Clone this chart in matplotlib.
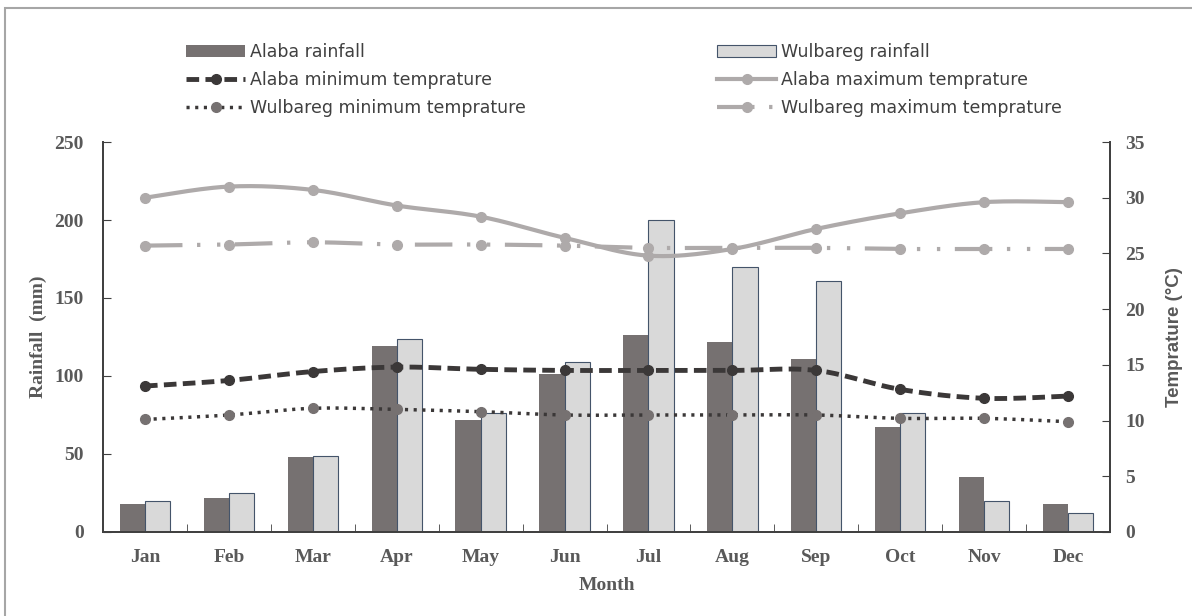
import numpy as np
import matplotlib.pyplot as plt
from matplotlib.patches import Rectangle
from matplotlib.lines import Line2D

# Monthly data
months = ['Jan', 'Feb', 'Mar', 'Apr', 'May', 'Jun', 'Jul', 'Aug', 'Sep', 'Oct', 'Nov', 'Dec']
alaba_rain = [18, 22, 48, 119, 72, 101, 126, 122, 111, 67, 35, 18]
wulbareg_rain = [20, 25, 49, 124, 76, 109, 200, 170, 161, 76, 20, 12]
alaba_min = [13.1, 13.6, 14.4, 14.8, 14.6, 14.5, 14.5, 14.5, 14.5, 12.8, 12.0, 12.2]
wulbareg_min = [10.1, 10.5, 11.1, 11.0, 10.8, 10.5, 10.5, 10.5, 10.5, 10.2, 10.2, 9.9]
alaba_max = [30.0, 31.0, 30.7, 29.3, 28.3, 26.4, 24.8, 25.4, 27.2, 28.6, 29.6, 29.6]
wulbareg_max = [25.7, 25.8, 26.0, 25.8, 25.8, 25.7, 25.5, 25.5, 25.5, 25.4, 25.4, 25.4]

txt = '#595959'
serif = 'Liberation Serif'


def smooth(x, y, n=24):
    # Catmull-Rom curve through the points, like Excel's smoothed line
    x = np.asarray(x, float)
    y = np.asarray(y, float)
    px = np.concatenate([[x[0]], x, [x[-1]]])
    py = np.concatenate([[y[0]], y, [y[-1]]])
    xs, ys = [], []
    t = np.linspace(0, 1, n)
    for i in range(1, len(px) - 2):
        for p, out in ((px, xs), (py, ys)):
            p0, p1, p2, p3 = p[i - 1], p[i], p[i + 1], p[i + 2]
            out.extend(0.5 * ((2 * p1) + (-p0 + p2) * t
                              + (2 * p0 - 5 * p1 + 4 * p2 - p3) * t ** 2
                              + (-p0 + 3 * p1 - 3 * p2 + p3) * t ** 3))
    return xs, ys


fig = plt.figure(figsize=(11.92, 6.16), dpi=100)
ax = fig.add_axes([103 / 1192, 1 - 532 / 616, (1110 - 103) / 1192, (532 - 142) / 616])
ax2 = ax.twinx()

# chart area frame
fig.patches.append(Rectangle((5 / 1192, -0.1), 1.2, 1 - 8 / 616 + 0.1, transform=fig.transFigure,
                             fill=False, edgecolor='#a6a6a6', lw=1.5))

x = np.arange(len(months))
w = 0.3
ax.bar(x - w / 2, alaba_rain, w, color='#767171', edgecolor='none')
ax.bar(x + w / 2, wulbareg_rain, w, color='#d9d9d9', edgecolor='#44546a', linewidth=0.8)

ax.set_xlim(-0.5, 11.5)
ax.set_ylim(0, 250)
ax.set_yticks(range(0, 251, 50))
ax2.set_ylim(0, 35)
ax2.set_yticks(range(0, 36, 5))

wmax_dash = (9, 3.5, 0.8, 4, 0.8, 3.5)

sx, sy = smooth(x, alaba_max)
ax2.plot(sx, sy, color='#aeaaaa', lw=3)
ax2.plot(x, alaba_max, 'o', color='#aeaaaa', ms=7)

sx, sy = smooth(x, wulbareg_max)
ax2.plot(sx, sy, color='#aeaaaa', lw=3, dashes=wmax_dash)
ax2.plot(x, wulbareg_max, 'o', color='#aeaaaa', ms=7)

sx, sy = smooth(x, alaba_min)
ax2.plot(sx, sy, color='#3b3838', lw=3.5, dashes=(2.6, 1.3))
ax2.plot(x, alaba_min, 'o', color='#3b3838', ms=7)

sx, sy = smooth(x, wulbareg_min)
ax2.plot(sx, sy, color='#3b3838', lw=2.5, dashes=(0.9, 1.6))
ax2.plot(x, wulbareg_min, 'o', color='#767171', ms=7)

# axes styling
for a in (ax, ax2):
    a.spines['top'].set_visible(False)
    for s in ('left', 'right', 'bottom'):
        a.spines[s].set_color('#404040')
        a.spines[s].set_linewidth(1.3)
ax.set_xticks(x)
ax.set_xticklabels(months)
ax.set_xticks(np.arange(0.5, 11.5, 1), minor=True)
ax.tick_params(axis='x', which='major', length=0, pad=12)
ax.tick_params(axis='x', which='minor', direction='in', length=6, color='#404040')
ax.tick_params(axis='y', direction='in', length=6, color='#404040', pad=14)
ax2.tick_params(axis='y', direction='in', length=6, color='#404040', pad=11)
for lab in ax.get_xticklabels() + ax.get_yticklabels() + ax2.get_yticklabels():
    lab.set_fontfamily(serif)
    lab.set_fontweight('bold')
    lab.set_fontsize(14)
    lab.set_color(txt)

ax.set_xlabel('Month', family=serif, weight='bold', fontsize=14, color=txt, labelpad=8)
ax.set_ylabel('Rainfall  (mm)', family=serif, weight='bold', fontsize=14, color=txt, labelpad=5)
ax2.set_ylabel('Temprature (\u00b0C)', family=['Liberation Sans', 'DejaVu Sans'], weight='bold',
               fontsize=13.5, color=txt, labelpad=15)

# legend in two columns
h_ar = Rectangle((0, 0), 1, 1, facecolor='#767171', edgecolor='none')
h_wr = Rectangle((0, 0), 1, 1, facecolor='#d9d9d9', edgecolor='#44546a', lw=0.8)
h_amin = Line2D([], [], color='#3b3838', lw=3.5, dashes=(2.6, 1.3), marker='o', ms=7)
h_wmin = Line2D([], [], color='#3b3838', lw=2.5, dashes=(0.9, 1.6), marker='o', ms=7,
                markerfacecolor='#767171', markeredgecolor='#767171')
h_amax = Line2D([], [], color='#aeaaaa', lw=3, marker='o', ms=7)
h_wmax = Line2D([], [], color='#aeaaaa', lw=3, dashes=wmax_dash, marker='o', ms=7)

leg_kw = dict(frameon=False, prop={'family': 'DejaVu Sans', 'size': 12.5}, labelcolor='#404040',
              handlelength=3.4, handletextpad=0.3, labelspacing=0.57, borderaxespad=0,
              borderpad=0)
fig.legend([h_ar, h_amin, h_wmin],
           ['Alaba rainfall', 'Alaba minimum temprature', 'Wulbareg minimum temprature'],
           loc='upper left', bbox_to_anchor=(186 / 1192, 1 - 43 / 616), **leg_kw)
fig.legend([h_wr, h_amax, h_wmax],
           ['Wulbareg rainfall', 'Alaba maximum temprature', 'Wulbareg maximum temprature'],
           loc='upper left', bbox_to_anchor=(717 / 1192, 1 - 43 / 616), **leg_kw)

fig.savefig('out.png', dpi=100)
